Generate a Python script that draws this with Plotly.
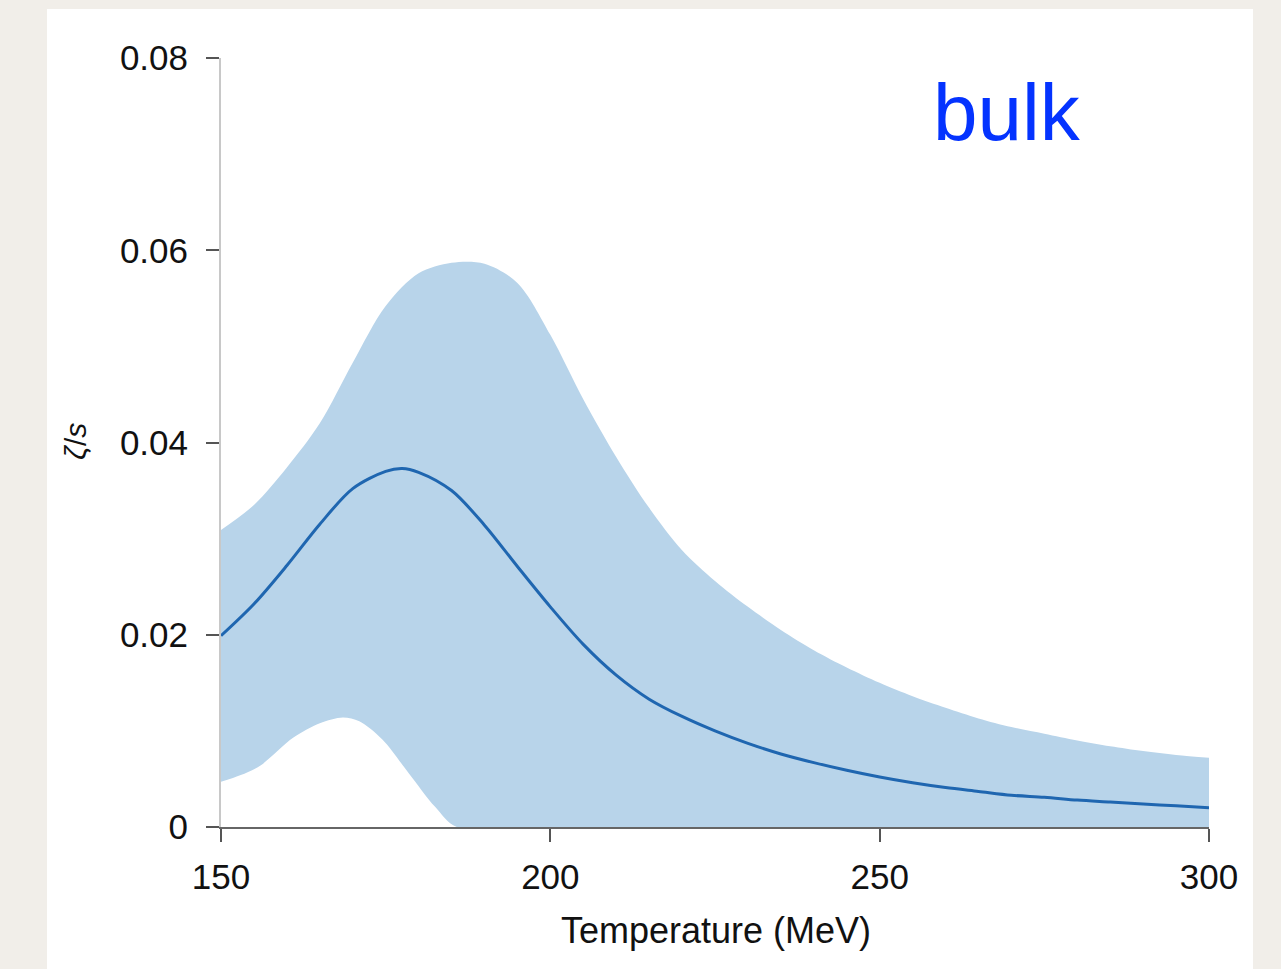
import plotly.graph_objects as go

# Bulk viscosity to entropy ratio vs temperature: posterior mean and 90% band
T_upper = [150, 155, 160, 165, 170, 175, 180, 185, 190, 195, 200, 205, 210, 215, 220,
           225, 230, 235, 240, 245, 250, 255, 260, 265, 270, 275, 280, 285, 290, 295, 300]
zeta_upper = [0.0309, 0.0335, 0.0374, 0.0420, 0.0483, 0.0542, 0.0576, 0.0587, 0.0586,
              0.0566, 0.0512, 0.0445, 0.0385, 0.0332, 0.0288, 0.0256, 0.0229, 0.0205,
              0.0184, 0.0166, 0.0150, 0.0136, 0.0124, 0.0113, 0.0104, 0.0097, 0.0090,
              0.0084, 0.0079, 0.0075, 0.0072]

T_lower = [150, 153, 156, 161, 165, 168.5, 171, 174.5, 178.5, 182.5, 185.8, 200, 250, 300]
zeta_lower = [0.0047, 0.0054, 0.0064, 0.0093, 0.0108, 0.0114, 0.0110, 0.0091, 0.0056,
              0.0021, 0.0, 0.0, 0.0, 0.0]

T_mean = [150, 155, 160, 165, 170, 175, 177.5, 180, 185, 190, 195, 200, 205, 210, 215,
          220, 225, 230, 235, 240, 245, 250, 255, 260, 265, 270, 275, 280, 285, 290, 295, 300]
zeta_mean = [0.0199, 0.0232, 0.0272, 0.0315, 0.0352, 0.0370, 0.0373, 0.0369, 0.0350,
             0.0314, 0.0271, 0.0229, 0.0190, 0.0158, 0.0133, 0.0115, 0.0100, 0.0087,
             0.0076, 0.0067, 0.0059, 0.0052, 0.0046, 0.0041, 0.0037, 0.0033, 0.0031,
             0.0028, 0.0026, 0.0024, 0.0022, 0.0020]

x_ticks = [150, 200, 250, 300]
y_ticks = [0, 0.02, 0.04, 0.06, 0.08]
y_ticktext = ["0", "0.02", "0.04", "0.06", "0.08"]

BAND = "#b8d4ea"
LINE = "#1f66b0"
FONT = "Liberation Sans, Arial, Helvetica, sans-serif"

fig = go.Figure()

# credible band: lower edge first, then upper edge filled down to it
fig.add_trace(go.Scatter(
    x=T_lower, y=zeta_lower, mode="lines",
    line=dict(width=0, color=BAND, shape="spline", smoothing=0.9),
    hoverinfo="skip", showlegend=False,
))
fig.add_trace(go.Scatter(
    x=T_upper, y=zeta_upper, mode="lines",
    fill="tonexty", fillcolor=BAND,
    line=dict(width=0, color=BAND, shape="spline", smoothing=0.9),
    hoverinfo="skip", showlegend=False,
))

fig.add_trace(go.Scatter(
    x=T_mean, y=zeta_mean, mode="lines",
    line=dict(color=LINE, width=3, shape="spline", smoothing=0.9),
    showlegend=False,
))

# plot region geometry (pixels) used for paper-space placement
W, H = 1281, 969
L, R, T, B = 221, 72, 58, 142
pw, ph = W - L - R, H - T - B


def px_x(px):
    return (px - L) / pw


def px_y(py):
    return (H - B - py) / ph


fig.update_layout(
    width=W, height=H,
    margin=dict(l=L, r=R, t=T, b=B),
    paper_bgcolor="#f1eee9",
    plot_bgcolor="white",
    font=dict(family=FONT, color="#111111", size=35),
    shapes=[dict(
        type="rect", xref="paper", yref="paper", layer="below",
        x0=px_x(47), x1=px_x(1253), y0=px_y(1000), y1=px_y(9),
        fillcolor="white", line=dict(width=0),
    )],
    annotations=[
        dict(text="Temperature (MeV)", xref="paper", yref="paper",
             x=px_x(716), y=px_y(930), xanchor="center", yanchor="middle",
             showarrow=False, font=dict(size=36, family=FONT, color="#111111")),
        dict(text="<i>ζ</i>/<i>s</i>", xref="paper", yref="paper",
             x=px_x(76), y=px_y(442), xanchor="center", yanchor="middle",
             textangle=-90, showarrow=False,
             font=dict(size=30, family=FONT, color="#111111")),
        dict(text="bulk", xref="paper", yref="paper",
             x=px_x(1007), y=px_y(112), xanchor="center", yanchor="middle",
             showarrow=False, font=dict(size=80, family=FONT, color="#0433ff")),
    ],
)

fig.update_xaxes(
    range=[150, 300], tickvals=x_ticks, ticks="outside", ticklen=13,
    tickwidth=2, tickcolor="#555555", showline=True, linecolor="#666666",
    linewidth=2, showgrid=False, zeroline=False, ticklabelstandoff=5,
    tickfont=dict(size=35, family=FONT, color="#111111"),
)
fig.update_yaxes(
    range=[0, 0.08], tickvals=y_ticks, ticktext=y_ticktext, ticks="outside",
    ticklen=13, tickwidth=2, tickcolor="#555555", showline=True,
    linecolor="#c8c8c8", linewidth=2, showgrid=False, zeroline=False,
    ticklabelstandoff=11,
    tickfont=dict(size=35, family=FONT, color="#111111"),
)

fig.write_html("out.html")
